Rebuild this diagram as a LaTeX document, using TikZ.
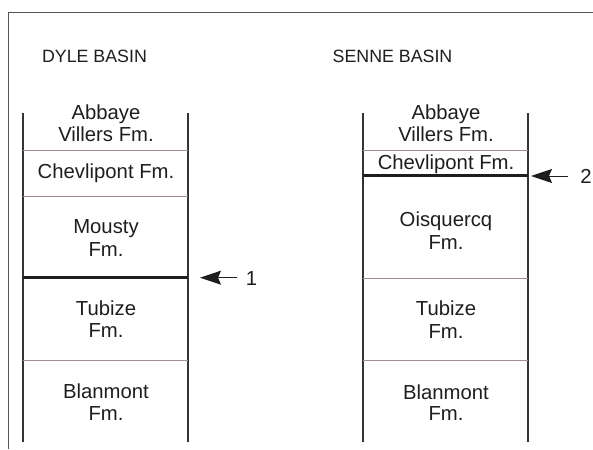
\documentclass[tikz,border=0pt]{standalone}
\usepackage{fontspec}
\setmainfont{Liberation Sans}
\usetikzlibrary{arrows.meta}
\definecolor{ink}{HTML}{1E1E1E}
\definecolor{colline}{HTML}{333333}
\definecolor{thinline}{HTML}{A08E94}
\definecolor{frameline}{HTML}{555555}
\tikzset{
  lbl/.style={anchor=base, inner sep=0pt, text=ink, font=\fontsize{20.3}{22}\selectfont},
  head/.style={anchor=base, inner sep=0pt, text=ink, font=\fontsize{17.8}{20}\selectfont},
  colside/.style={draw=colline, line width=1.5pt},
  contact/.style={draw=thinline, line width=0.9pt},
  boundary/.style={draw=ink, line width=2.8pt},
  marker/.style={draw=ink, line width=1pt, -{Stealth[length=21pt,width=14pt,inset=3pt]}},
  framestyle/.style={draw=frameline, line width=1pt}
}
\begin{document}
\begin{tikzpicture}[x=1pt,y=-1pt]
\useasboundingbox (0,0) rectangle (593,449);
\fill[white] (0,0) rectangle (593,449);
% frame
\draw[framestyle] (8,449) -- (8,13) -- (593,13);
% headings
\node[head] (hdyle) at (94.5,62.5) {DYLE BASIN};
\node[head] (hsenne) at (392.5,62.5) {SENNE BASIN};
% left column
\draw[colside] (23,113) -- (23,442);
\draw[colside] (188,113) -- (188,442);
\draw[contact] (23,150) -- (188,150);
\draw[contact] (23,196.5) -- (188,196.5);
\draw[boundary] (23,277.7) -- (188,277.7);
\draw[contact] (23,360) -- (188,360);
\node[lbl] (dab1) at (106,119.5) {Abbaye};
\node[lbl] (dab2) at (106,141.8) {Villers Fm.};
\node[lbl] (dch) at (106,178) {Chevlipont Fm.};
\node[lbl] (dmo1) at (106,233.3) {Mousty};
\node[lbl] (dmo2) at (106,256) {Fm.};
\node[lbl] (dtu1) at (106,315.3) {Tubize};
\node[lbl] (dtu2) at (106,337.8) {Fm.};
\node[lbl] (dbl1) at (106,398.5) {Blanmont};
\node[lbl] (dbl2) at (106,420.7) {Fm.};
% right column
\draw[colside] (363,113) -- (363,442);
\draw[colside] (528,113) -- (528,442);
\draw[contact] (363,150.5) -- (528,150.5);
\draw[boundary] (363,175.5) -- (528,175.5);
\draw[contact] (363,278) -- (528,278);
\draw[contact] (363,360) -- (528,360);
\node[lbl] (sab1) at (446,119.5) {Abbaye};
\node[lbl] (sab2) at (446,141.8) {Villers Fm.};
\node[lbl] (sch) at (446,169.3) {Chevlipont Fm.};
\node[lbl] (soi1) at (446,226.3) {Oisquercq};
\node[lbl] (soi2) at (446,249.3) {Fm.};
\node[lbl] (stu1) at (446,315.7) {Tubize};
\node[lbl] (stu2) at (446,338.3) {Fm.};
\node[lbl] (sbl1) at (446,399) {Blanmont};
\node[lbl] (sbl2) at (446,420.7) {Fm.};
% markers
\coordinate (t1) at (200,277.7);
\coordinate (s1) at (237,277.7);
\node[lbl] (n1) at (251.5,285) {1};
\draw[marker] (s1) -- (t1);
\coordinate (t2) at (531,176);
\coordinate (s2) at (568,176);
\node[lbl] (n2) at (586,183.3) {2};
\draw[marker] (s2) -- (t2);
\end{tikzpicture}
\end{document}
